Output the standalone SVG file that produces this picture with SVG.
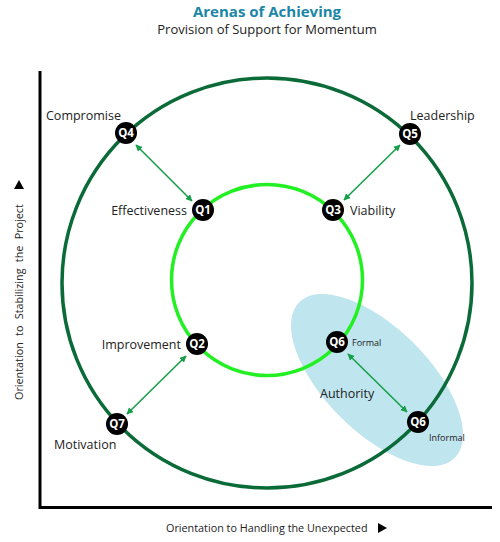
<svg xmlns="http://www.w3.org/2000/svg" width="500" height="542" viewBox="0 0 500 542">
<defs>
<style>
text{font-family:"Open Sans","Noto Sans","Liberation Sans",sans-serif;fill:#222}
.lbl{font-size:12.5px}
.sm{font-size:9px}
.q circle{fill:#000}
.q text{fill:#fff;font-weight:bold;font-size:11.5px;text-anchor:middle}
.arr{stroke:#17a04a;stroke-width:1.6;fill:none;marker-start:url(#ah);marker-end:url(#ah)}
</style>
<marker id="ah" viewBox="0 0 10 10" refX="9" refY="5" markerWidth="7" markerHeight="7" orient="auto-start-reverse" markerUnits="userSpaceOnUse">
<path d="M0,0 L10,5 L0,10 z" fill="#17a04a"/>
</marker>
</defs>
<rect width="500" height="542" fill="#fff"/>
<text x="267" y="17" text-anchor="middle" style="font-size:15px;font-weight:bold;fill:#1b86a6">Arenas of Achieving</text>
<text x="267" y="34" text-anchor="middle" style="font-size:13px">Provision of Support for Momentum</text>
<g id="axes" stroke="#000" stroke-width="3" fill="none">
<path d="M40,71 V507.5 H492"/>
</g>
<text transform="translate(23,400) rotate(-90)" style="font-size:10.8px;word-spacing:3.5px">Orientation to Stabilizing the Project</text>
<path d="M14,189 L24,189 L19,180 z" fill="#000"/>
<text x="166" y="532" style="font-size:10.8px">Orientation to Handling the Unexpected</text>
<path d="M378,523 L387,528 L378,533 z" fill="#000"/>
<ellipse id="authority-area" cx="377" cy="380" rx="110" ry="52" transform="rotate(45 377 380)" fill="#bfe5ef"/>
<circle id="outer-ring" cx="267" cy="283" r="205" fill="none" stroke="#0b6b38" stroke-width="3.5"/>
<circle id="inner-ring" cx="267" cy="280" r="95.5" fill="none" stroke="#22f022" stroke-width="3.5"/>
<g id="connectors">
<line class="arr" x1="136" y1="145" x2="192" y2="201"/>
<line class="arr" x1="400" y1="145" x2="344" y2="200"/>
<line class="arr" x1="186" y1="356" x2="127" y2="414"/>
<line class="arr" x1="348" y1="354" x2="407" y2="412"/>
</g>
<g id="q4" class="q"><circle cx="126" cy="133" r="11"/><text x="126" y="137">Q4</text></g>
<text class="lbl" x="46" y="120">Compromise</text>
<g id="q5" class="q"><circle cx="410" cy="134" r="11"/><text x="410" y="138">Q5</text></g>
<text class="lbl" x="410" y="120">Leadership</text>
<g id="q1" class="q"><circle cx="203" cy="210" r="11"/><text x="203" y="214">Q1</text></g>
<text class="lbl" x="187" y="215" text-anchor="end">Effectiveness</text>
<g id="q3" class="q"><circle cx="333" cy="210" r="11"/><text x="333" y="214">Q3</text></g>
<text class="lbl" x="350" y="215">Viability</text>
<g id="q2" class="q"><circle cx="197" cy="344" r="11"/><text x="197" y="348">Q2</text></g>
<text class="lbl" x="181" y="349" text-anchor="end">Improvement</text>
<g id="q6-formal" class="q"><circle cx="337" cy="342" r="11"/><text x="337" y="346">Q6</text></g>
<text class="sm" x="352" y="346">Formal</text>
<g id="q7" class="q"><circle cx="117" cy="424" r="11"/><text x="117" y="428">Q7</text></g>
<text class="lbl" x="54" y="449">Motivation</text>
<g id="q6-informal" class="q"><circle cx="418" cy="422" r="11"/><text x="418" y="426">Q6</text></g>
<text class="sm" x="429" y="441">Informal</text>
<text class="lbl" x="320" y="398">Authority</text>
</svg>
